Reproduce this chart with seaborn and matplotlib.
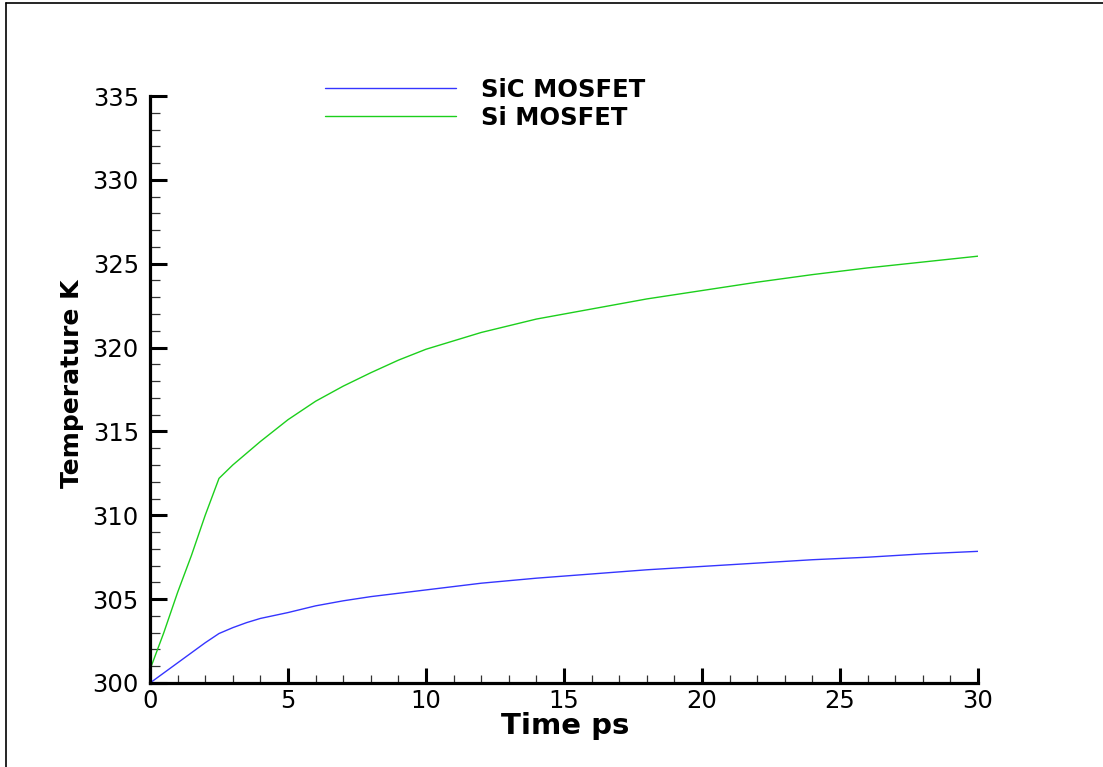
import matplotlib
matplotlib.use("Agg")
import matplotlib.pyplot as plt
from matplotlib.lines import Line2D
from matplotlib.ticker import MultipleLocator
import numpy as np
import pandas as pd
import seaborn as sns

# Transient junction temperature (K) versus time (ps)
sic_time = [0, 1, 2, 2.5, 3, 3.5, 4, 5, 6, 7, 8, 10, 12, 14, 16, 18, 20, 22, 24, 26, 28, 30]
sic_temp = [300.0, 301.2, 302.4, 302.95, 303.3, 303.6, 303.85, 304.2, 304.6, 304.9, 305.15,
            305.55, 305.95, 306.25, 306.5, 306.75, 306.95, 307.15, 307.35, 307.5, 307.7, 307.85]

si_time = [0, 0.5, 1, 1.5, 2, 2.5, 3, 3.5, 4, 4.5, 5, 6, 7, 8, 9, 10, 12, 14, 16, 18, 20, 22, 24,
           26, 28, 30]
si_temp = [300.8, 303.0, 305.4, 307.6, 310.0, 312.2, 313.0, 313.7, 314.4, 315.05, 315.7, 316.8,
           317.7, 318.5, 319.25, 319.9, 320.9, 321.7, 322.3, 322.9, 323.4, 323.9, 324.35, 324.75,
           325.1, 325.45]

series_names = ["SiC MOSFET", "Si MOSFET"]
series_colors = {"SiC MOSFET": "#3535ff", "Si MOSFET": "#1ccf1c"}

df = pd.concat([
    pd.DataFrame({"time": sic_time, "temp": sic_temp, "device": series_names[0]}),
    pd.DataFrame({"time": si_time, "temp": si_temp, "device": series_names[1]}),
], ignore_index=True)

sns.set_theme(style="white")
plt.rcParams["font.family"] = ["DejaVu Sans"]
plt.rcParams["text.color"] = "black"

fig = plt.figure(figsize=(11.03, 7.67), dpi=100)
ax = fig.add_axes([150 / 1103, 1 - 683 / 767, 828 / 1103, 587 / 767])

sns.lineplot(data=df, x="time", y="temp", hue="device", hue_order=series_names,
             palette=series_colors, estimator=None, sort=False, linewidth=1.0,
             legend=False, ax=ax)

ax.set_xlim(0, 30)
ax.set_ylim(300, 335)
ax.xaxis.set_major_locator(MultipleLocator(5))
ax.xaxis.set_minor_locator(MultipleLocator(1))
ax.yaxis.set_major_locator(MultipleLocator(5))
ax.yaxis.set_minor_locator(MultipleLocator(1))

for side in ("top", "right"):
    ax.spines[side].set_visible(False)
for side in ("left", "bottom"):
    ax.spines[side].set_linewidth(2.3)
    ax.spines[side].set_color("black")

ax.tick_params(axis="both", which="both", left=True, bottom=True, direction="in")
ax.tick_params(axis="both", which="major", length=12, width=2.2,
               color="black", labelsize=17.5, labelcolor="black")
ax.tick_params(axis="both", which="minor", length=7, width=0.9, color="#333333")
ax.tick_params(axis="y", which="major", pad=8)
ax.tick_params(axis="x", which="major", pad=4, length=11)
ax.tick_params(axis="x", which="minor", length=6)

ax.set_xlabel("Time ps", fontsize=21, fontweight="bold", color="black")
ax.set_ylabel("Temperature K", fontsize=18, fontweight="bold", color="black")
ax.xaxis.set_label_coords(0.502, -0.05)
ax.yaxis.set_label_coords(-0.08, 0.51)

handles = ax.get_lines()[:2]
leg = ax.legend(handles, series_names, loc="upper left", bbox_to_anchor=(0.2114, 1.031),
                frameon=False, prop={"weight": "bold", "size": 17.5},
                handlelength=5.4, handletextpad=1.0, labelspacing=0.16,
                borderpad=0, borderaxespad=0)
for t in leg.get_texts():
    t.set_color("black")

# Page frame along the top and left edges
fig.add_artist(Line2D([6 / 1103, 6 / 1103], [0, 1 - 3 / 767], transform=fig.transFigure,
                      color="black", linewidth=1.2))
fig.add_artist(Line2D([6 / 1103, 1], [1 - 3 / 767, 1 - 3 / 767], transform=fig.transFigure,
                      color="black", linewidth=1.2))

fig.savefig("out.png", dpi=100)
